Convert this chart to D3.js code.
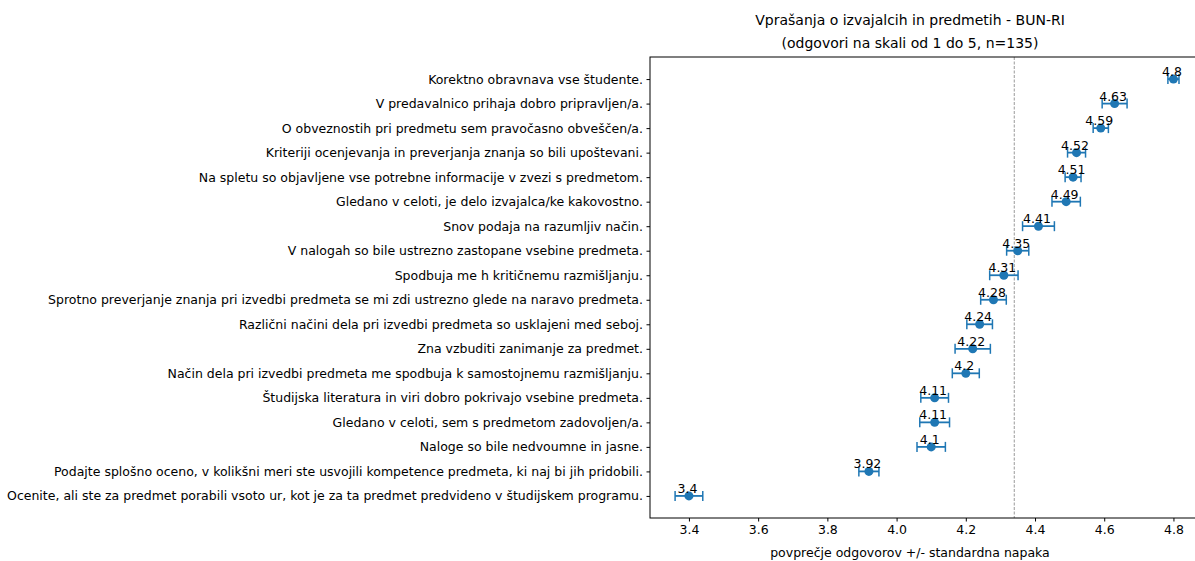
<!DOCTYPE html>
<html>
<head>
<meta charset="utf-8">
<script src="https://cdn.jsdelivr.net/npm/d3@7"></script>
<style>
  body { margin: 0; background: #fff; }
  svg text { font-family: "DejaVu Sans", sans-serif; fill: #000; }
</style>
</head>
<body>
<svg id="chart" width="1195" height="561"></svg>
<script>
// questions, top to bottom
var questions = [
    'Korektno obravnava vse študente.',
    'V predavalnico prihaja dobro pripravljen/a.',
    'O obveznostih pri predmetu sem pravočasno obveščen/a.',
    'Kriteriji ocenjevanja in preverjanja znanja so bili upoštevani.',
    'Na spletu so objavljene vse potrebne informacije v zvezi s predmetom.',
    'Gledano v celoti, je delo izvajalca/ke kakovostno.',
    'Snov podaja na razumljiv način.',
    'V nalogah so bile ustrezno zastopane vsebine predmeta.',
    'Spodbuja me h kritičnemu razmišljanju.',
    'Sprotno preverjanje znanja pri izvedbi predmeta se mi zdi ustrezno glede na naravo predmeta.',
    'Različni načini dela pri izvedbi predmeta so usklajeni med seboj.',
    'Zna vzbuditi zanimanje za predmet.',
    'Način dela pri izvedbi predmeta me spodbuja k samostojnemu razmišljanju.',
    'Študijska literatura in viri dobro pokrivajo vsebine predmeta.',
    'Gledano v celoti, sem s predmetom zadovoljen/a.',
    'Naloge so bile nedvoumne in jasne.',
    'Podajte splošno oceno, v kolikšni meri ste usvojili kompetence predmeta, ki naj bi jih pridobili.',
    'Ocenite, ali ste za predmet porabili vsoto ur, kot je za ta predmet predvideno v študijskem programu.'
];

// mean answers
var means = [4.8, 4.63, 4.59, 4.52, 4.51, 4.49, 4.41, 4.35, 4.31, 4.28, 4.24, 4.22, 4.2, 4.11, 4.11, 4.1, 3.92, 3.4];

// standard errors
var errors = [0.016, 0.036, 0.022, 0.026, 0.023, 0.041, 0.046, 0.032, 0.041, 0.037, 0.037, 0.051, 0.039, 0.040, 0.043, 0.041, 0.029, 0.040];

// overall mean, dashed line
var overallMean = 4.34;

var xTicks = [3.4, 3.6, 3.8, 4.0, 4.2, 4.4, 4.6, 4.8];

var titleLines = ['Vprašanja o izvajalcih in predmetih - BUN-RI', '(odgovori na skali od 1 do 5, n=135)'];
var xLabel = 'povprečje odgovorov +/- standardna napaka';

var margin = { top: 57, left: 650, bottom: 43, right: -7 };
var width = 1195 - margin.left - margin.right;
var height = 561 - margin.top - margin.bottom;
var blue = '#1f77b4';

var svg = d3.select('#chart');

var g = svg.append('g')
    .attr('transform', 'translate(' + margin.left + ',' + margin.top + ')');

var x = d3.scaleLinear()
    .domain([3.2875, 4.8825])
    .range([0, width]);

var y = d3.scaleLinear()
    .domain([-0.9, questions.length - 1 + 0.9])
    .range([0, height]);

// x axis
var xAxis = g.append('g')
    .attr('transform', 'translate(0,' + height + ')')
    .call(d3.axisBottom(x).tickValues(xTicks).tickSize(3.5).tickPadding(3.5).tickFormat(d3.format('.1f')));
xAxis.select('.domain').remove();
xAxis.selectAll('text').style('font-size', '12.5px');

// y axis
var yAxis = g.append('g')
    .call(d3.axisLeft(y).tickValues(d3.range(questions.length)).tickSize(3.5).tickPadding(3.5)
        .tickFormat(function (i) { return questions[i]; }));
yAxis.select('.domain').remove();
yAxis.selectAll('text').style('font-size', '12.5px');

// mean line
g.append('line')
    .attr('x1', x(overallMean)).attr('x2', x(overallMean))
    .attr('y1', 0).attr('y2', height)
    .attr('stroke', '#999')
    .attr('stroke-width', 1)
    .attr('stroke-dasharray', '3,1.5');

// error bars
var rows = g.selectAll('.row')
    .data(means)
    .enter()
    .append('g')
    .attr('class', 'row');

rows.append('line')
    .attr('x1', function (d, i) { return x(d - errors[i]); })
    .attr('x2', function (d, i) { return x(d + errors[i]); })
    .attr('y1', function (d, i) { return y(i); })
    .attr('y2', function (d, i) { return y(i); })
    .attr('stroke', blue)
    .attr('stroke-width', 1.8);

[-1, 1].forEach(function (s) {
    rows.append('line')
        .attr('x1', function (d, i) { return x(d + s * errors[i]); })
        .attr('x2', function (d, i) { return x(d + s * errors[i]); })
        .attr('y1', function (d, i) { return y(i) - 5; })
        .attr('y2', function (d, i) { return y(i) + 5; })
        .attr('stroke', blue)
        .attr('stroke-width', 1.5);
});

rows.append('circle')
    .attr('cx', function (d) { return x(d); })
    .attr('cy', function (d, i) { return y(i); })
    .attr('r', 4.5)
    .attr('fill', blue);

rows.append('text')
    .attr('x', function (d) { return x(d) - 1.5; })
    .attr('y', function (d, i) { return y(i) - 3; })
    .attr('text-anchor', 'middle')
    .style('font-size', '12.5px')
    .text(function (d) { return String(d); });

// spines
g.append('rect')
    .attr('width', width).attr('height', height)
    .attr('fill', 'none')
    .attr('stroke', '#000')
    .attr('stroke-width', 1);

// title
svg.selectAll('.title')
    .data(titleLines)
    .enter()
    .append('text')
    .attr('class', 'title')
    .attr('x', 910)
    .attr('y', function (d, i) { return 25 + i * 23; })
    .attr('text-anchor', 'middle')
    .style('font-size', '14px')
    .text(function (d) { return d; });

svg.append('text')
    .attr('x', 910)
    .attr('y', 557)
    .attr('text-anchor', 'middle')
    .style('font-size', '12.5px')
    .text(xLabel);
</script>
</body>
</html>
